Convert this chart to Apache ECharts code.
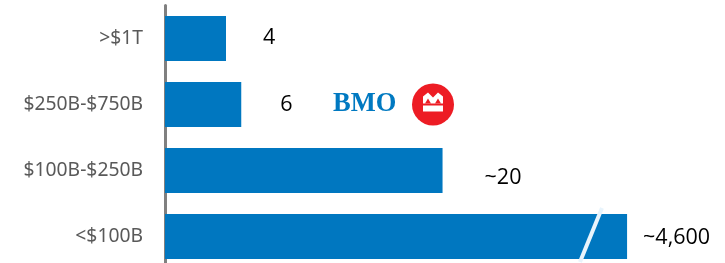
<!DOCTYPE html>
<html>
<head>
<meta charset="utf-8">
<script src="https://cdn.jsdelivr.net/npm/echarts@6/dist/echarts.min.js"></script>
<style>
html,body{margin:0;padding:0;background:#fff;}
#c{width:725px;height:263px;}
</style>
</head>
<body>
<div id="c"></div>
<script>
// Categories (top to bottom)
const categories = ['>$1T', '$250B-$750B', '$100B-$250B', '<$100B'];
// Value labels shown next to bars (number of banks)
const valueLabels = ['4', '6', '~20', '~4,600'];
// Bar lengths on the schematic (non-proportional, broken) scale used in the source
const barLengths = [4, 5, 18.2, 30.3];
// Position of the axis break on the last bar (schematic units)
const breakValue = 27.9;

const labelStyles = [
  {distance: 37, offset: [0, -1]},
  {distance: 39, offset: [0, 0]},
  {distance: 42, offset: [0, 7]},
  {distance: 16, offset: [0, 1]}
];

const chart = echarts.init(document.getElementById('c'), null, {renderer: 'canvas'});

const option = {
  animation: false,
  grid: {left: 165, top: 5.5, width: 533.75, height: 264, containLabel: false, outerBoundsMode: 'none'},
  xAxis: {
    type: 'value', min: 0, max: 35,
    show: false
  },
  yAxis: {
    type: 'category',
    data: categories,
    inverse: true,
    axisLine: {show: true, lineStyle: {color: '#808080', width: 3}},
    axisTick: {show: false},
    axisLabel: {
      margin: 22,
      color: '#595959',
      fontSize: 19.3,
      fontFamily: 'Noto Sans'
    },
    splitLine: {show: false}
  },
  series: [{
    type: 'bar',
    barWidth: 45,
    itemStyle: {color: '#0077C0'},
    data: barLengths.map((v, i) => ({
      value: v,
      label: {
        show: true,
        position: 'right',
        distance: labelStyles[i].distance,
        offset: labelStyles[i].offset,
        formatter: valueLabels[i],
        color: '#000',
        fontSize: 21.5,
        fontFamily: 'Open Sans'
      }
    }))
  }]
};
chart.setOption(option);

// Break mark on the last bar and the BMO logo
const p = chart.convertToPixel({gridIndex: 0}, [breakValue, categories[3]]);
const bmoRow = chart.convertToPixel({gridIndex: 0}, [0, categories[1]]);
const cy = bmoRow[1];
const lx = 433;
chart.setOption({
  graphic: [
    {
      type: 'line', z: 100,
      shape: {x1: p[0] + 11.5, y1: p[1] - 28.5, x2: p[0] - 10.5, y2: p[1] + 25.5},
      style: {stroke: '#e8f4fc', lineWidth: 4}
    },
    {
      type: 'text', z: 100,
      style: {
        text: 'BMO', x: 333, y: cy, textVerticalAlign: 'middle', verticalAlign: 'middle',
        fill: '#0079C1', font: 'bold 26.5px "Liberation Serif", "DejaVu Serif", serif'
      }
    },
    {
      type: 'circle', z: 100,
      shape: {cx: lx, cy: cy, r: 21},
      style: {fill: '#ED1C24'}
    },
    {
      type: 'polygon', z: 101,
      shape: {points: [[lx-10, cy-1], [lx-10, cy-8], [lx-5, cy-12], [lx, cy-7], [lx+5, cy-12], [lx+10, cy-8], [lx+10, cy-1]]},
      style: {fill: '#fff'}
    },
    {
      type: 'polygon', z: 102,
      shape: {points: [[lx-8, cy-1], [lx-5, cy-6], [lx-2, cy-1]]},
      style: {fill: '#ED1C24'}
    },
    {
      type: 'polygon', z: 102,
      shape: {points: [[lx+2, cy-1], [lx+5, cy-6], [lx+8, cy-1]]},
      style: {fill: '#ED1C24'}
    },
    {
      type: 'rect', z: 101,
      shape: {x: lx-10, y: cy+1, width: 20, height: 6},
      style: {fill: '#fff'}
    }
  ]
});
</script>
</body>
</html>
